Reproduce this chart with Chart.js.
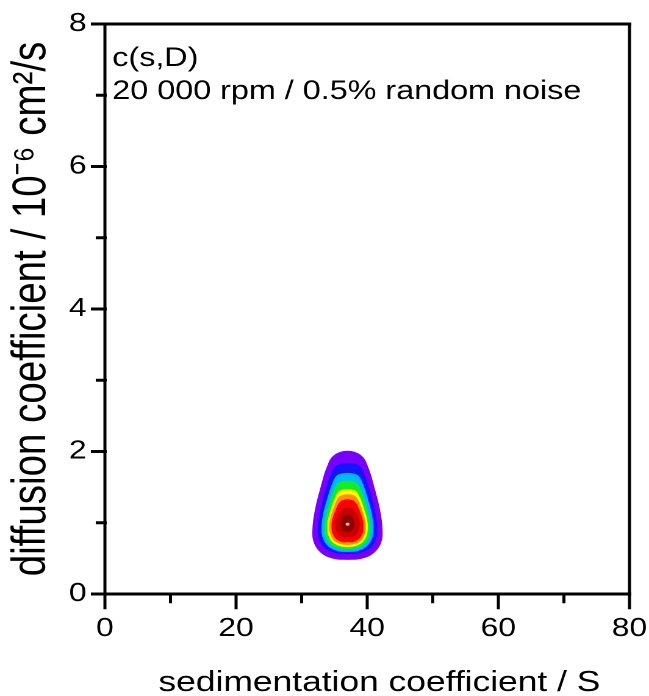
<!DOCTYPE html>
<html>
<head>
<meta charset="utf-8">
<script src="https://cdn.jsdelivr.net/npm/chart.js@4/dist/chart.umd.min.js"></script>
<style>
  html, body { margin: 0; padding: 0; background: #fff; overflow: hidden; }
  #csd { display: block; width: 649px; height: 696px; }
</style>
</head>
<body>
<canvas id="csd" width="532" height="696" style="width:649px;height:696px"></canvas>
<script>
var canvasElement = document.getElementById("csd");
var FONT = "'Liberation Sans', Arial, Helvetica, sans-serif";

// axis ticks
var xMajorTicks = [0, 20, 40, 60, 80];
var xMinorTicks = [10, 30, 50, 70];
var yMajorTicks = [0, 2, 4, 6, 8];
var yMinorTicks = [1, 3, 5, 7];

var xTitle = "sedimentation coefficient / S";
var yTitle = "diffusion coefficient / 10\u207B\u2076 cm\u00B2/s";
var noteLines = ["c(s,D)", "20 000 rpm / 0.5% random noise"];

// c(s,D) contour outlines: [s in S, D in 10^-6 cm2/s]
// each outline starts and ends at its lowest point
var contourViolet = [[36.99,0.49],[35.17,0.50],[33.24,0.57],[32.04,0.71],[31.78,0.90],[32.14,1.17],[33.03,1.50],[33.97,1.78],[35.01,1.94],[36.99,2.00],[38.97,1.94],[40.01,1.78],[40.95,1.50],[41.84,1.17],[42.20,0.90],[41.94,0.71],[40.74,0.57],[38.81,0.50],[36.99,0.49]];
var contourBlue = [[36.99,0.57],[35.45,0.58],[33.83,0.64],[32.82,0.76],[32.60,0.92],[32.91,1.15],[33.65,1.42],[34.44,1.65],[35.32,1.79],[36.99,1.83],[38.66,1.79],[39.54,1.65],[40.33,1.42],[41.07,1.15],[41.38,0.92],[41.16,0.76],[40.15,0.64],[38.53,0.58],[36.99,0.57]];
var contourCyan = [[36.99,0.60],[35.65,0.61],[34.23,0.67],[33.35,0.79],[33.16,0.94],[33.43,1.13],[34.08,1.35],[34.77,1.54],[35.53,1.66],[36.99,1.69],[38.45,1.66],[39.21,1.54],[39.90,1.35],[40.55,1.13],[40.82,0.94],[40.63,0.79],[39.75,0.67],[38.33,0.61],[36.99,0.60]];
var contourGreen = [[36.99,0.64],[35.81,0.65],[34.56,0.70],[33.79,0.81],[33.62,0.95],[33.86,1.10],[34.43,1.29],[35.04,1.45],[35.71,1.55],[36.99,1.58],[38.27,1.55],[38.94,1.45],[39.55,1.29],[40.12,1.10],[40.36,0.95],[40.19,0.81],[39.42,0.70],[38.17,0.65],[36.99,0.64]];
var contourYellow = [[36.99,0.67],[35.95,0.68],[34.86,0.73],[34.18,0.83],[34.03,0.96],[34.24,1.08],[34.74,1.23],[35.27,1.36],[35.87,1.44],[36.99,1.46],[38.11,1.44],[38.71,1.36],[39.24,1.23],[39.74,1.08],[39.95,0.96],[39.80,0.83],[39.12,0.73],[38.03,0.68],[36.99,0.67]];
var contourOrange = [[36.99,0.70],[36.06,0.71],[35.07,0.75],[34.46,0.85],[34.33,0.96],[34.52,1.07],[34.97,1.20],[35.45,1.31],[35.98,1.37],[36.99,1.39],[38.00,1.37],[38.53,1.31],[39.01,1.20],[39.46,1.07],[39.65,0.96],[39.52,0.85],[38.91,0.75],[37.92,0.71],[36.99,0.70]];
var contourRed = [[36.99,0.74],[36.18,0.74],[35.33,0.78],[34.80,0.86],[34.69,0.97],[34.85,1.06],[35.24,1.16],[35.66,1.25],[36.12,1.30],[36.99,1.32],[37.86,1.30],[38.32,1.25],[38.74,1.16],[39.13,1.06],[39.29,0.97],[39.18,0.86],[38.65,0.78],[37.80,0.74],[36.99,0.74]];
var contourDarkRed = [[36.99,0.81],[36.38,0.81],[35.74,0.84],[35.34,0.91],[35.25,0.99],[35.37,1.04],[35.67,1.11],[35.98,1.16],[36.33,1.19],[36.99,1.20],[37.65,1.19],[38.00,1.16],[38.31,1.11],[38.61,1.04],[38.73,0.99],[38.64,0.91],[38.24,0.84],[37.60,0.81],[36.99,0.81]];
var contourPeak = [[36.99,0.88],[36.67,0.88],[36.33,0.90],[36.14,0.94],[36.07,0.99],[36.13,1.02],[36.29,1.06],[36.46,1.09],[36.64,1.10],[36.99,1.11],[37.34,1.10],[37.52,1.09],[37.69,1.06],[37.85,1.02],[37.91,0.99],[37.86,0.94],[37.65,0.90],[37.31,0.88],[36.99,0.88]];
var peakPoint = [[37.0, 0.98]];

var contours = [contourViolet, contourBlue, contourCyan, contourGreen, contourYellow,
                contourOrange, contourRed, contourDarkRed, contourPeak];
var contourColors = ["#7800ff", "#1414ff", "#00b8ff", "#10f020", "#ffff00",
                     "#ff9000", "#ff0000", "#c80000", "#900000"];

var datasets = contours.map(function (pts, i) {
    return {
        data: pts.map(function (p) { return { x: p[0], y: p[1] }; }),
        borderColor: contourColors[i],
        backgroundColor: contourColors[i],
        borderWidth: 1.5,
        pointRadius: 0,
        tension: 0.4,
        fill: "shape",
        order: contours.length - i + 1   // outer level drawn first
    };
});
datasets.push({
    data: peakPoint.map(function (p) { return { x: p[0], y: p[1] }; }),
    showLine: false,
    pointRadius: 1.6,
    pointBorderWidth: 0,
    pointBackgroundColor: "#e8b8b8",
    order: 0
});

// frame, tick marks, x title and the note in the upper left corner
var framePlugin = {
    id: "frame",
    afterDatasetsDraw: function (chart) {
        var ctx = chart.ctx, a = chart.chartArea;
        var xs = chart.scales.x, ys = chart.scales.y;
        ctx.save();
        ctx.strokeStyle = "#000";
        ctx.lineCap = "square";

        // horizontal strokes
        ctx.lineWidth = 3;
        ctx.beginPath();
        ctx.moveTo(a.left, a.top); ctx.lineTo(a.right, a.top);
        ctx.moveTo(a.left, a.bottom); ctx.lineTo(a.right, a.bottom);
        yMajorTicks.forEach(function (v) {
            var py = ys.getPixelForValue(v);
            ctx.moveTo(a.left - 10, py); ctx.lineTo(a.left, py);
        });
        yMinorTicks.forEach(function (v) {
            var py = ys.getPixelForValue(v);
            ctx.moveTo(a.left - 6, py); ctx.lineTo(a.left, py);
        });
        ctx.stroke();

        // vertical strokes (canvas is stretched sideways, so thinner)
        ctx.lineWidth = 2.5;
        ctx.beginPath();
        ctx.moveTo(a.left, a.top); ctx.lineTo(a.left, a.bottom);
        ctx.moveTo(a.right, a.top); ctx.lineTo(a.right, a.bottom);
        xMajorTicks.forEach(function (v) {
            var px = xs.getPixelForValue(v);
            ctx.moveTo(px, a.bottom); ctx.lineTo(px, a.bottom + 14);
        });
        xMinorTicks.forEach(function (v) {
            var px = xs.getPixelForValue(v);
            ctx.moveTo(px, a.bottom); ctx.lineTo(px, a.bottom + 8);
        });
        ctx.stroke();

        ctx.fillStyle = "#000";
        ctx.font = "26.5px " + FONT;
        ctx.textAlign = "left";
        ctx.textBaseline = "alphabetic";
        ctx.fillText(noteLines[0], a.left + 6, 66);
        ctx.fillText(noteLines[1], a.left + 6, 99);

        ctx.font = "29px " + FONT;
        ctx.textAlign = "center";
        ctx.fillText(xTitle, (a.left + a.right) / 2 + 10, 691);
        ctx.restore();
    }
};

var config = {
    type: "line",
    data: { datasets: datasets },
    options: {
        responsive: false,
        devicePixelRatio: 2,
        animation: false,
        layout: { padding: { top: 24, right: 16, bottom: 0, left: 0 } },
        plugins: {
            legend: { display: false },
            tooltip: { enabled: false }
        },
        scales: {
            x: {
                type: "linear",
                min: 0,
                max: 80,
                grid: { display: true, drawOnChartArea: false, drawTicks: true,
                        tickLength: 19, tickColor: "rgba(0,0,0,0)" },
                border: { display: false },
                ticks: {
                    stepSize: 20,
                    padding: 0,
                    color: "#000",
                    maxRotation: 0,
                    font: { family: FONT, size: 26 }
                },
                afterFit: function (scale) { scale.height = 102; }
            },
            y: {
                type: "linear",
                min: 0,
                max: 8,
                grid: { display: true, drawOnChartArea: false, drawTicks: true,
                        tickLength: 15, tickColor: "rgba(0,0,0,0)" },
                border: { display: false },
                ticks: {
                    stepSize: 2,
                    padding: 0,
                    color: "#000",
                    font: { family: FONT, size: 26 }
                },
                title: {
                    display: true,
                    text: yTitle,
                    color: "#000",
                    padding: { top: 3.5, bottom: 0 },
                    font: { family: FONT, size: 38.5, lineHeight: 1.2 }
                },
                afterFit: function (scale) { scale.width = 86; }
            }
        }
    },
    plugins: [framePlugin]
};

var csdChart = new Chart(canvasElement, config);
</script>
</body>
</html>
